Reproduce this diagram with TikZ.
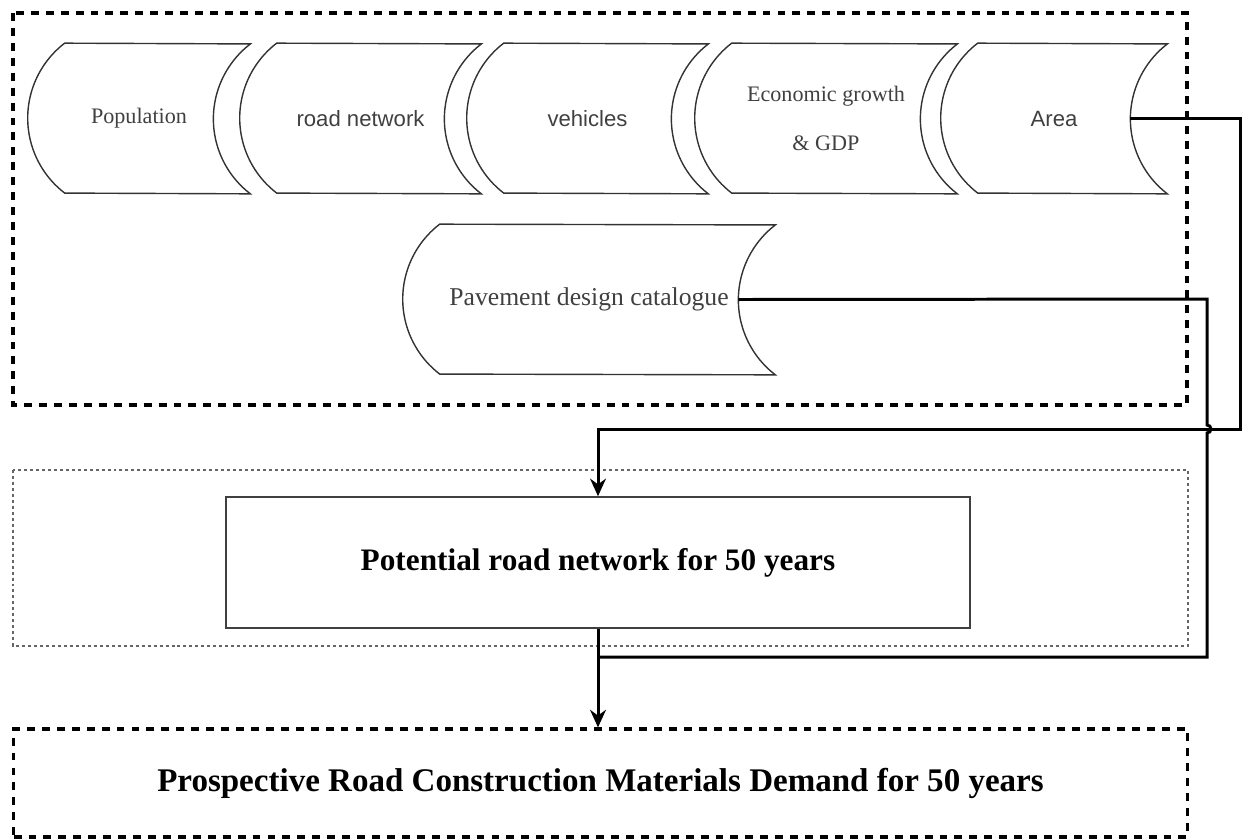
\documentclass[tikz,border=0pt]{standalone}
\usepackage{fontspec}
\setmainfont{Liberation Serif}
\newfontfamily\arialfont{Liberation Sans}
\usetikzlibrary{positioning,arrows.meta,calc}

\tikzset{
  stored/.style={minimum height=3cm,inner sep=0pt,text=black!75,align=center,
    font=\fontsize{12.6}{15}\selectfont},
  shapeline/.style={draw=black!80,line width=0.8pt},
  conn/.style={line width=1.7pt,black},
  bigframe/.style={line width=1.8pt,dash pattern=on 4.5pt off 4pt},
  dotframe/.style={draw=black!60,line width=0.8pt,dash pattern=on 1.7pt off 1.7pt},
  potbox/.style={draw=black!75,line width=0.9pt,minimum width=14.88cm,minimum height=2.62cm,
    font=\fontsize{17.8}{20}\selectfont\bfseries},
  demandbox/.style={bigframe,draw,minimum width=23.48cm,minimum height=2.16cm,
    font=\fontsize{18.8}{22}\selectfont\bfseries}
}

\newcommand{\storedoutline}[1]{%
  \draw[shapeline] ($(#1.north west)+(37,0)$) arc[start angle=127.5,end angle=232.5,radius=1.89cm]
    -- (#1.south east) arc[start angle=232.5,end angle=127.5,radius=1.89cm] -- cycle;}

\begin{document}
\begin{tikzpicture}[>={Stealth[length=10pt,width=9pt]},x=0.02cm,y=-0.02cm]
  \useasboundingbox (0,0) rectangle (1243,839);

  \draw[bigframe] (13,13) rectangle (1187,405);
  \draw[dotframe] (13,470) rectangle (1188,646);

  \node[stored,minimum width=4.44cm] (pop) at (139,118.5) {Population};
  \node[stored,minimum width=4.82cm,font=\arialfont\fontsize{12.6}{15}\selectfont] (road) at (360.5,118.5) {road network};
  \node[stored,minimum width=4.82cm,font=\arialfont\fontsize{12.6}{15}\selectfont] (veh) at (587.5,118.5) {vehicles};
  \node[stored,minimum width=5.24cm,font=\fontsize{12.6}{27.8}\selectfont] (econ) at (826,118.5) {Economic growth\\\& GDP};
  \node[stored,minimum width=4.52cm,font=\arialfont\fontsize{12.6}{15}\selectfont] (area) at (1054,118.5) {Area};
  \node[stored,minimum width=7.44cm,font=\fontsize{14.6}{17}\selectfont] (pave) at (589,299.5) {Pavement design catalogue};
  \foreach \s in {pop,road,veh,econ,area,pave}
    \storedoutline{\s};

  \node[potbox] (pot) at (598,562.5) {Potential road network for 50 years};
  \node[demandbox] (demand) at (600.5,783) {Prospective Road Construction Materials Demand for 50 years};

  \coordinate (area-out) at ($(area.east)+(-37,0)$);
  \coordinate (pave-out) at ($(pave.east)+(-37,0)$);
  \coordinate (areabend) at (1240,429);
  \coordinate (pavecorner) at (1207,299);
  \coordinate (pavebend) at (1207,657);

  \draw[conn,->] (area-out) -| (areabend) -| (pot.north);
  \draw[conn] (pave-out) -- (pavecorner) -- ($(pavecorner |- areabend)+(0,-4)$)
    arc[start angle=90,end angle=-90,radius=2.27pt] -- (pavebend) -- (pot.south |- pavebend);
  \draw[conn,->] (pot.south) -- (pot.south |- demand.north);
\end{tikzpicture}
\end{document}
